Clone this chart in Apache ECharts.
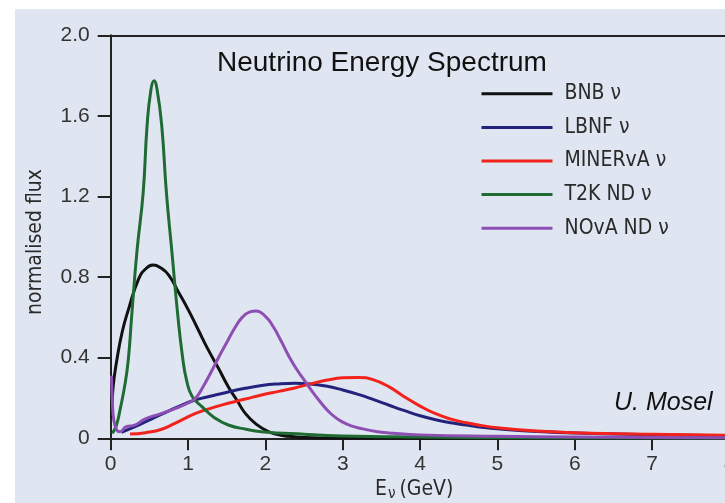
<!DOCTYPE html>
<html>
<head>
<meta charset="utf-8">
<script src="https://cdn.jsdelivr.net/npm/echarts@6/dist/echarts.min.js"></script>
<style>
  html, body { margin: 0; padding: 0; background: #fff; }
  #chart { width: 725px; height: 503px; }
</style>
</head>
<body>
<div id="chart"></div>
<script>
// values: [energy GeV, normalised flux]
var bnbFlux = [[0.01,0.1],[0.03,0.25],[0.08,0.39],[0.15,0.53],[0.23,0.64],[0.36,0.79],[0.45,0.84],[0.55,0.86],[0.65,0.845],[0.75,0.81],[0.87,0.73],[1.0,0.64],[1.13,0.54],[1.26,0.44],[1.39,0.35],[1.52,0.256],[1.63,0.19],[1.74,0.124],[1.88,0.07],[2.04,0.033],[2.2,0.015],[2.4,0.007],[2.7,0.002],[3.0,0],[8.0,0]];
var lbnfFlux = [[0.14,0.03],[0.3,0.055],[0.44,0.08],[0.66,0.12],[0.88,0.158],[1.09,0.19],[1.3,0.21],[1.52,0.23],[1.74,0.248],[1.95,0.262],[2.17,0.27],[2.38,0.273],[2.58,0.27],[2.8,0.258],[3.0,0.24],[3.2,0.218],[3.4,0.192],[3.6,0.164],[3.8,0.137],[4.0,0.112],[4.2,0.092],[4.4,0.077],[4.6,0.066],[4.8,0.055],[5.0,0.047],[5.5,0.034],[6.0,0.026],[7.0,0.018],[8.0,0.012]];
var minervaFlux = [[0.25,0.021],[0.45,0.028],[0.66,0.045],[0.85,0.078],[1.09,0.122],[1.3,0.15],[1.52,0.174],[1.74,0.195],[1.95,0.215],[2.17,0.233],[2.38,0.25],[2.58,0.27],[2.8,0.289],[3.0,0.3],[3.2,0.302],[3.4,0.29],[3.6,0.255],[3.8,0.205],[4.0,0.16],[4.2,0.122],[4.4,0.095],[4.6,0.077],[4.8,0.063],[5.0,0.052],[5.5,0.036],[6.0,0.028],[7.0,0.02],[8.0,0.015]];
var t2kFlux = [[0.02,0.025],[0.07,0.06],[0.12,0.14],[0.19,0.28],[0.23,0.4],[0.27,0.6],[0.34,0.93],[0.42,1.22],[0.47,1.55],[0.52,1.73],[0.56,1.775],[0.6,1.73],[0.66,1.55],[0.72,1.22],[0.79,0.93],[0.87,0.6],[0.93,0.4],[0.98,0.29],[1.05,0.21],[1.18,0.157],[1.35,0.1],[1.52,0.066],[1.75,0.045],[1.95,0.033],[2.5,0.02],[3.0,0.012],[4.0,0.006],[5.0,0.003],[6.0,0.001],[8.0,0]];
var novaFlux = [[0.01,0.31],[0.02,0.2],[0.04,0.09],[0.08,0.04],[0.12,0.033],[0.2,0.058],[0.3,0.064],[0.44,0.095],[0.66,0.124],[0.85,0.15],[1.0,0.175],[1.1,0.2],[1.2,0.26],[1.3,0.33],[1.4,0.405],[1.5,0.475],[1.6,0.545],[1.7,0.6],[1.8,0.627],[1.88,0.632],[2.0,0.605],[2.1,0.555],[2.2,0.485],[2.3,0.41],[2.4,0.345],[2.5,0.29],[2.6,0.235],[2.7,0.185],[2.8,0.14],[2.9,0.105],[3.0,0.08],[3.1,0.063],[3.22,0.05],[3.45,0.033],[3.65,0.025],[4.0,0.017],[5.0,0.01],[6.0,0.006],[7.0,0.004],[8.0,0.003]];

var seriesNames = ['BNB ν', 'LBNF ν', 'MINERvA ν', 'T2K ND ν', 'NOvA ND ν'];
var seriesColors = ['#111111', '#23237e', '#f2221c', '#1f6b34', '#8d4fb3'];
var yTicks = [0, 0.4, 0.8, 1.2, 1.6, 2.0];
var xTicks = [0, 1, 2, 3, 4, 5, 6, 7, 8];

var narrowFont = "'Liberation Sans Narrow', 'DejaVu Sans Condensed', sans-serif";
var plainFont = "'Liberation Sans', Arial, sans-serif";

function fluxChart() {
    var myChart = echarts.init(document.getElementById('chart'));
    var allData = [bnbFlux, lbnfFlux, minervaFlux, t2kFlux, novaFlux];
    var series = [];
    allData.forEach(function (d, i) {
        series.push({
            name: seriesNames[i],
            type: 'line',
            data: d,
            smooth: 0.5,
            symbol: 'none',
            color: seriesColors[i],
            lineStyle: { width: 3, color: seriesColors[i] },
            z: 3 + i
        });
    });

    var option = {
        backgroundColor: '#ffffff',
        animation: false,
        grid: {
            left: 110.7,
            top: 35.3,
            width: 618.8,
            bottom: 64.7,
            outerBoundsMode: 'none'
        },
        legend: {
            orient: 'vertical',
            left: 480,
            top: 83.3,
            padding: 0,
            itemWidth: 71,
            itemHeight: 20,
            itemGap: 12.6,
            data: seriesNames,
            itemStyle: { opacity: 0 },
            lineStyle: { width: 3 },
            textStyle: {
                fontFamily: narrowFont,
                fontSize: 21,
                color: '#2a2a2a',
                padding: [0, 0, 0, 7]
            }
        },
        xAxis: [{
            type: 'value',
            min: 0,
            max: 8,
            interval: 1,
            axisLine: { lineStyle: { color: '#222', width: 2 } },
            axisTick: { length: 12, lineStyle: { color: '#222', width: 2 } },
            axisLabel: {
                margin: 15,
                fontFamily: plainFont,
                fontSize: 21,
                color: '#333',
                formatter: function (v) { return xTicks.indexOf(v) >= 0 ? String(v) : ''; }
            },
            splitLine: { show: false }
        }, {
            type: 'value',
            position: 'top',
            min: 0,
            max: 8,
            axisLine: { show: true, lineStyle: { color: '#222', width: 2 } },
            axisTick: { show: false },
            axisLabel: { show: false },
            splitLine: { show: false }
        }],
        yAxis: [{
            type: 'value',
            min: 0,
            max: 2,
            interval: 0.4,
            axisLine: { show: true, lineStyle: { color: '#222', width: 2 } },
            axisTick: { show: true, length: 13, lineStyle: { color: '#222', width: 2 } },
            axisLabel: {
                margin: 21,
                fontFamily: plainFont,
                fontSize: 21,
                color: '#333',
                formatter: function (v) {
                    for (var k = 0; k < yTicks.length; k++) {
                        if (Math.abs(yTicks[k] - v) < 1e-6) return v === 0 ? '0' : yTicks[k].toFixed(1);
                    }
                    return '';
                }
            },
            splitLine: { show: false }
        }],
        graphic: [{
            type: 'rect',
            z: -10,
            silent: true,
            shape: { x: 15, y: 9, width: 720, height: 500 },
            style: { fill: '#e0e6f1' }
        }, {
            type: 'text',
            x: 217,
            y: 63,
            style: {
                text: 'Neutrino Energy Spectrum',
                fontFamily: plainFont,
                fontSize: 28,
                fill: '#111',
                textVerticalAlign: 'middle'
            }
        }, {
            type: 'text',
            x: 614,
            y: 403,
            style: {
                text: 'U. Mosel',
                fontFamily: plainFont,
                fontStyle: 'italic',
                fontSize: 25,
                fill: '#111',
                textVerticalAlign: 'middle'
            }
        }, {
            type: 'text',
            x: 36,
            y: 242,
            rotation: Math.PI / 2,
            style: {
                text: 'normalised flux',
                fontFamily: narrowFont,
                fontSize: 21,
                fill: '#2a2a2a',
                textAlign: 'center',
                textVerticalAlign: 'middle'
            }
        }, {
            type: 'text',
            x: 375,
            y: 490,
            style: {
                text: '{e|E}{nu|ν}{g|(GeV)}',
                textVerticalAlign: 'middle',
                rich: {
                    e: { fontFamily: narrowFont, fontSize: 21, fill: '#2a2a2a' },
                    nu: { fontFamily: narrowFont, fontSize: 15, fill: '#2a2a2a', padding: [8, 4, 0, 1] },
                    g: { fontFamily: narrowFont, fontSize: 21, fill: '#2a2a2a' }
                }
            }
        }],
        series: series
    };
    myChart.setOption(option);
}

fluxChart();
</script>
</body>
</html>
